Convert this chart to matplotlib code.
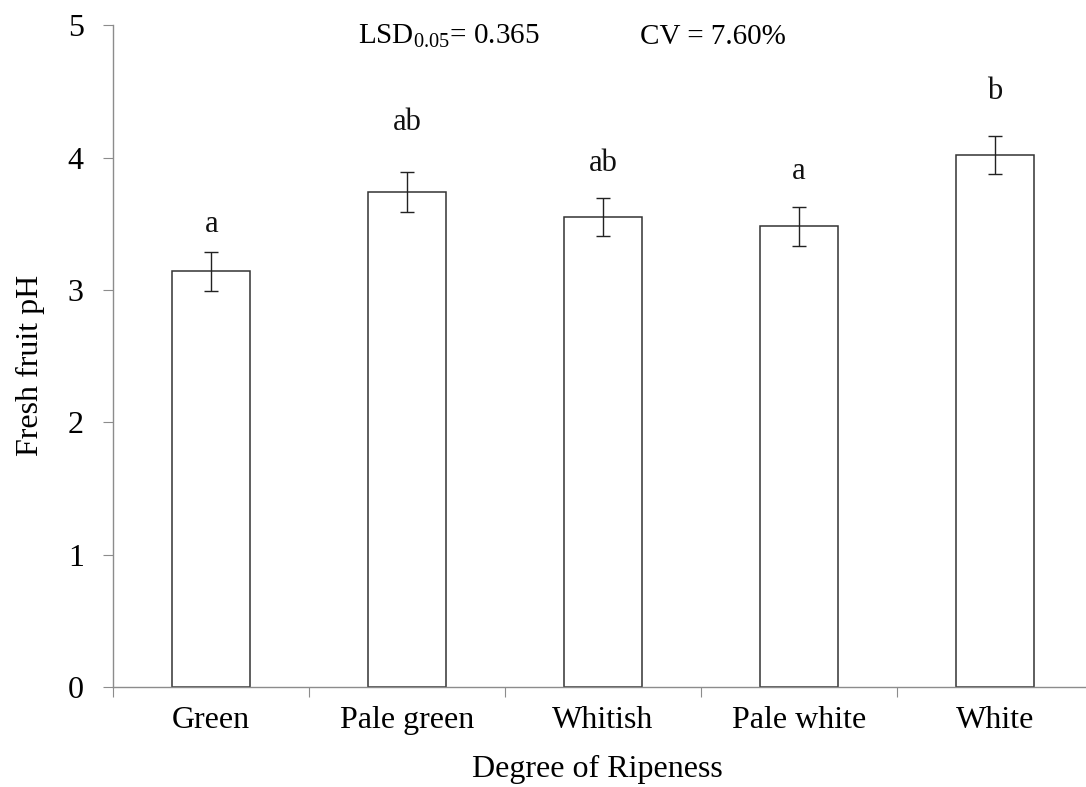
"""Fresh fruit pH by degree of ripeness (bar chart with LSD letters)."""

import matplotlib
matplotlib.use("Agg")
import matplotlib.pyplot as plt
import numpy as np

# ── Data ──────────────────────────────────────────────────────────────────
categories = ["Green", "Pale green", "Whitish", "Pale white", "White"]
ph_mean = [3.14, 3.74, 3.55, 3.48, 4.02]
ph_err = [0.145, 0.15, 0.145, 0.145, 0.145]
letters = ["a", "ab", "ab", "a", "b"]
letter_y = [3.44, 4.21, 3.90, 3.84, 4.44]

plt.rcParams["font.family"] = ["Liberation Serif", "DejaVu Serif"]
plt.rcParams["mathtext.fontset"] = "custom"
plt.rcParams["mathtext.rm"] = "Liberation Serif"
plt.rcParams["mathtext.it"] = "Liberation Serif:italic"

FS = 23
SPINE = "#8c8c8c"

fig = plt.figure(figsize=(10.86, 7.87), dpi=100)
ax = fig.add_axes([0.1043, 0.127, 0.902, 0.841])

x = np.arange(len(categories))
ax.bar(x, ph_mean, width=0.4, color="white", edgecolor="#333333", linewidth=1.1, zorder=2)
ax.errorbar(x, ph_mean, yerr=ph_err, fmt="none", ecolor="#222222",
            elinewidth=1.0, capsize=5, capthick=1.0, zorder=3)

for xi, lab, ly in zip(x, letters, letter_y):
    ax.text(xi, ly, lab, ha="center", va="baseline", fontsize=22, color="#111111")

ax.set_xlim(-0.5, len(categories) - 0.5)
ax.set_ylim(0, 5)
ax.set_yticks([0, 1, 2, 3, 4, 5])

# category boundaries as major ticks, labels on minor ticks at centres
ax.set_xticks(np.arange(-0.5, len(categories), 1.0))
ax.set_xticklabels([])
ax.set_xticks(x, minor=True)
ax.set_xticklabels(categories, minor=True, fontsize=FS)
ax.tick_params(axis="x", which="major", length=7.2, width=0.8, color=SPINE, direction="out")
ax.tick_params(axis="x", which="minor", length=0, pad=13.5)
ax.tick_params(axis="y", length=7.2, width=0.8, color=SPINE, labelsize=FS, pad=14)

for side in ("top", "right"):
    ax.spines[side].set_visible(False)
for side in ("left", "bottom"):
    ax.spines[side].set_color(SPINE)
    ax.spines[side].set_linewidth(1.0)

ax.set_ylabel("Fresh fruit pH", fontsize=FS)
ax.yaxis.set_label_coords(-0.0697, 0.486)
ax.set_xlabel("Degree of Ripeness", fontsize=FS)
ax.xaxis.set_label_coords(0.494, -0.103)
ax.xaxis.label.set_va("top")

fig.text(0.3297, 0.944, r"LSD$_{0.05}$= 0.365", fontsize=21, va="baseline", ha="left")
fig.text(0.589, 0.944, "CV = 7.60%", fontsize=21, va="baseline", ha="left")

fig.savefig("out.png", dpi=100)
